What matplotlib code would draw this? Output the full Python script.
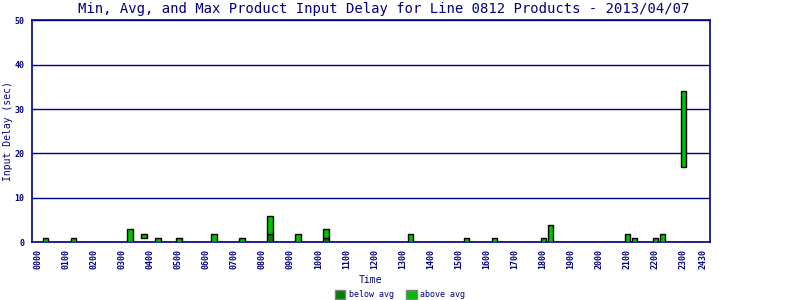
import matplotlib
matplotlib.use("Agg")
import matplotlib.pyplot as plt
from matplotlib.patches import Patch

# time slots (HHMM), min / avg / max delay in seconds
slots = ["0015", "0115", "0315", "0345", "0415", "0500", "0615", "0715",
         "0815", "0915", "1015", "1315", "1515", "1615", "1800", "1815",
         "2100", "2115", "2200", "2215", "2300"]
d_min = [0, 0, 0, 1, 0, 0, 0, 0, 0, 0, 0, 0, 0, 0, 0, 0, 0, 0, 0, 0, 17]
d_avg = [0, 0, 0, 1, 0, 0, 0, 0, 2, 0, 1, 0, 0, 0, 0, 0, 0, 0, 0, 0, 17]
d_max = [1, 1, 3, 2, 1, 1, 2, 1, 6, 2, 3, 2, 1, 1, 1, 4, 2, 1, 1, 2, 34]

tick_labels = ["%02d00" % h for h in range(24)] + ["2430"]
tick_pos = list(range(24)) + [23.72]

navy = "#000080"
dark = "#008000"
light = "#00c000"

plt.rcParams['font.family'] = ['DejaVu Sans Mono']

fig = plt.figure(figsize=(8, 3), dpi=100)
ax = fig.add_axes([0.0396, 0.1917, 0.848, 0.7416])

x = [int(s[:2]) + int(s[2:]) / 60.0 + 0.03 for s in slots]
w = 0.19
low = [a - m for a, m in zip(d_avg, d_min)]
high = [m - a for m, a in zip(d_max, d_avg)]
for xi, lo, mn, hi, av in zip(x, low, d_min, high, d_avg):
    if lo > 0:
        ax.bar(xi, lo, bottom=mn, width=w, color=dark, edgecolor="black",
               linewidth=1.0, zorder=3)
    if hi > 0:
        ax.bar(xi, hi, bottom=av, width=w, color=light, edgecolor="black",
               linewidth=1.0, zorder=3)

ax.set_xlim(-0.22, 23.97)
ax.set_ylim(0, 50)
ax.set_yticks([0, 10, 20, 30, 40, 50])
ax.set_yticklabels(["0", "10", "20", "30", "40", "50"], fontsize=6,
                   fontweight="bold", color=navy)
ax.set_xticks(tick_pos)
ax.set_xticklabels(tick_labels, rotation=90, fontsize=6, fontweight="bold",
                   color=navy)
ax.tick_params(length=0, pad=5)
ax.yaxis.grid(True, color=navy, linewidth=1.0)
ax.set_axisbelow(True)
for sp in ax.spines.values():
    sp.set_color(navy)
    sp.set_linewidth(1.2)

ax.set_xlabel("Time", fontsize=7, color=navy, labelpad=4)
ax.set_ylabel("Input Delay (sec)", fontsize=7, color=navy, va="center")
ax.yaxis.set_label_coords(-0.0345, 0.5)
fig.text(0.48, 0.97, "Min, Avg, and Max Product Input Delay for Line 0812 Products - 2013/04/07",
         fontsize=10, color=navy, ha="center", va="center")

handles = [Patch(facecolor=dark, edgecolor="gray", label="below avg"),
           Patch(facecolor=light, edgecolor="gray", label="above avg")]
fig.legend(handles=handles, loc="center", bbox_to_anchor=(0.5, 0.018), ncol=2,
           frameon=False, fontsize=6, handlelength=1.3, handleheight=1.2,
           handletextpad=0.4, columnspacing=1.5, labelcolor=navy)

fig.savefig("out.png", dpi=100)
